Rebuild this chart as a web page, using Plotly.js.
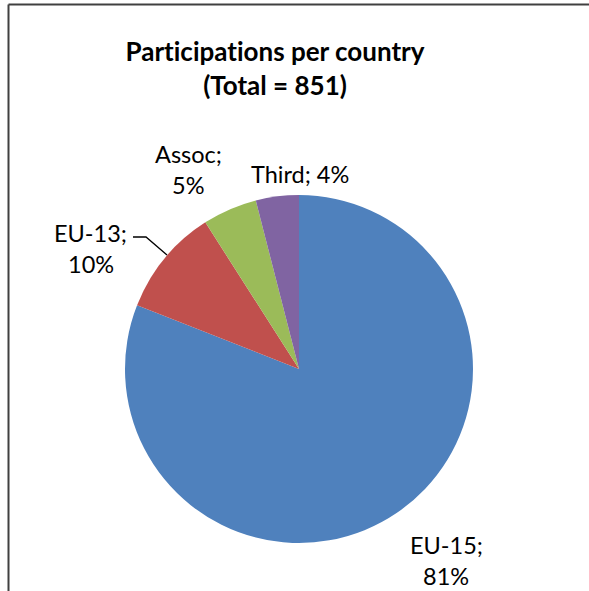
<!DOCTYPE html>
<html>
<head>
<meta charset="utf-8">
<script src="https://cdn.plot.ly/plotly-3.0.1.min.js"></script>
<style>html,body{margin:0;padding:0;background:#fff;}#chart{width:589px;height:591px;}
#chart text{font-variant-ligatures:none;font-feature-settings:"liga" 0, "clig" 0;}</style>
</head>
<body>
<div id="chart"></div>
<script>
// ---- data ----
const categories = ["EU-15", "EU-13", "Assoc", "Third"];
const participations = [689, 85, 43, 34];
const sliceColors = ["#4F81BD", "#C0504D", "#9BBB59", "#8064A2"];
const titleLines = ["Participations per country", "(Total = 851)"];

// ---- layout helpers (pixel -> paper) ----
const W = 589, H = 591;
const px = x => x / W;
const py = y => 1 - y / H;

const total = participations.reduce((a, b) => a + b, 0);
const pct = participations.map(v => Math.round(v / total * 100) + "%");

// label placement (pixel centres of each text line); two-line or single-line
const labelPlacement = [
  {lines: [[446, 545], [446, 576]], split: true},   // EU-15
  {lines: [[91, 233], [91, 264]], split: true},     // EU-13
  {lines: [[188, 154], [188, 185]], split: true},   // Assoc
  {lines: [[300, 174]], split: false}               // Third
];

const annotations = [];
categories.forEach((c, i) => {
  const p = labelPlacement[i];
  const texts = p.split ? [c + ";", pct[i]] : [c + "; " + pct[i]];
  texts.forEach((t, j) => {
    annotations.push({
      text: t, xref: "paper", yref: "paper",
      x: px(p.lines[j][0]), y: py(p.lines[j][1]),
      xanchor: "center", yanchor: "middle", showarrow: false,
      font: {family: "Lato, 'Open Sans', sans-serif", size: 23.5, color: "#000"}
    });
  });
});

const trace = {
  type: "pie",
  labels: categories,
  values: participations,
  sort: false,
  direction: "clockwise",
  rotation: 0,
  textinfo: "none",
  hoverinfo: "label+percent",
  marker: {colors: sliceColors, line: {width: 0}},
  domain: {x: [px(125), px(473)], y: [py(543), py(195)]},
  showlegend: false
};

const layout = {
  width: W, height: H,
  margin: {l: 0, r: 0, t: 0, b: 0},
  paper_bgcolor: "#fff",
  showlegend: false,
  title: {
    text: titleLines.join("<br>"),
    x: px(275), xanchor: "center", xref: "paper",
    y: py(61), yanchor: "middle", yref: "paper",
    font: {family: "Lato, 'Open Sans', sans-serif", size: 26, color: "#000", weight: "bold"}
  },
  annotations: annotations,
  shapes: [
    {type: "line", xref: "paper", yref: "paper", x0: px(8.5), x1: 1, y0: py(4.5), y1: py(4.5), line: {color: "#404040", width: 2}},
    {type: "line", xref: "paper", yref: "paper", x0: px(8.5), x1: px(8.5), y0: py(4.5), y1: 0, line: {color: "#404040", width: 2}},
    {type: "path", xref: "paper", yref: "paper",
     path: "M " + px(133) + "," + py(237) + " L " + px(146) + "," + py(237) + " L " + px(167) + "," + py(255),
     line: {color: "#000", width: 1.3}}
  ]
};

Plotly.newPlot("chart", [trace], layout, {displayModeBar: false, staticPlot: true});
</script>
</body>
</html>
